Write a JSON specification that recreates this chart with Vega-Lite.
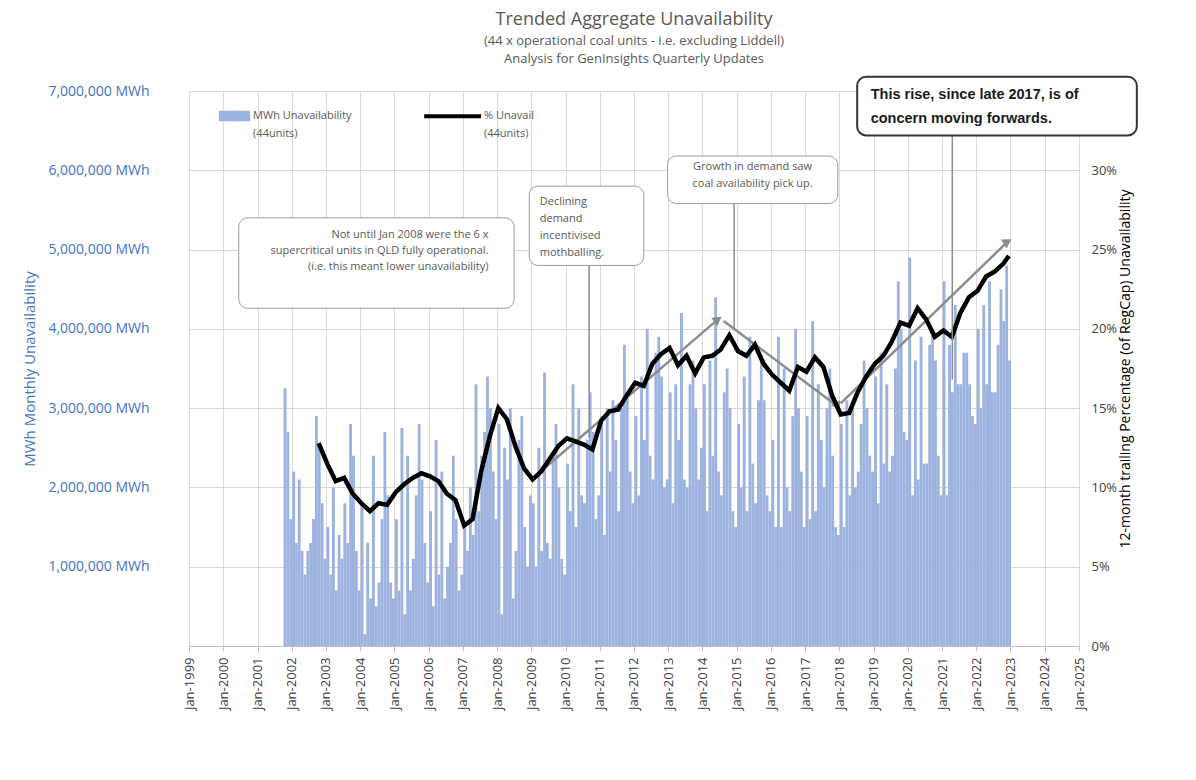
{
  "$schema": "https://vega.github.io/schema/vega-lite/v6.json",
  "width": 890,
  "height": 555,
  "padding": {"left": 22, "top": 10, "right": 10, "bottom": 5},
  "background": "white",
  "title": {
    "text": "Trended Aggregate Unavailability",
    "subtitle": ["(44 x operational coal units - i.e. excluding Liddell)", "Analysis for GenInsights Quarterly Updates"],
    "font": "Open Sans", "fontSize": 18, "fontWeight": "normal", "color": "#595959",
    "subtitleFont": "Open Sans", "subtitleFontSize": 13, "subtitleColor": "#595959", "subtitlePadding": 6, "subtitleLineHeight": 18,
    "anchor": "middle", "offset": 10
  },
  "config": {"view": {"stroke": null}, "font": "Open Sans"},
  "datasets": {
    "bars": [
      {"m":"2001-10-15","v":3.25},{"m":"2001-11-15","v":2.7},{"m":"2001-12-15","v":1.6},
      {"m":"2002-01-15","v":2.2},{"m":"2002-02-15","v":1.3},{"m":"2002-03-15","v":2.1},{"m":"2002-04-15","v":1.2},{"m":"2002-05-15","v":0.9},{"m":"2002-06-15","v":1.2},{"m":"2002-07-15","v":1.3},{"m":"2002-08-15","v":1.6},{"m":"2002-09-15","v":2.9},{"m":"2002-10-15","v":2.5},{"m":"2002-11-15","v":1.8},{"m":"2002-12-15","v":1.1},
      {"m":"2003-01-15","v":1.5},{"m":"2003-02-15","v":0.9},{"m":"2003-03-15","v":2.0},{"m":"2003-04-15","v":0.7},{"m":"2003-05-15","v":1.4},{"m":"2003-06-15","v":1.1},{"m":"2003-07-15","v":1.8},{"m":"2003-08-15","v":1.3},{"m":"2003-09-15","v":2.8},{"m":"2003-10-15","v":2.4},{"m":"2003-11-15","v":1.2},{"m":"2003-12-15","v":0.7},
      {"m":"2004-01-15","v":1.8},{"m":"2004-02-15","v":0.15},{"m":"2004-03-15","v":1.3},{"m":"2004-04-15","v":0.6},{"m":"2004-05-15","v":2.4},{"m":"2004-06-15","v":0.5},{"m":"2004-07-15","v":0.8},{"m":"2004-08-15","v":1.6},{"m":"2004-09-15","v":2.7},{"m":"2004-10-15","v":1.9},{"m":"2004-11-15","v":0.8},{"m":"2004-12-15","v":0.6},
      {"m":"2005-01-15","v":1.6},{"m":"2005-02-15","v":0.7},{"m":"2005-03-15","v":2.75},{"m":"2005-04-15","v":0.4},{"m":"2005-05-15","v":2.4},{"m":"2005-06-15","v":0.7},{"m":"2005-07-15","v":1.1},{"m":"2005-08-15","v":1.9},{"m":"2005-09-15","v":2.8},{"m":"2005-10-15","v":2.1},{"m":"2005-11-15","v":1.3},{"m":"2005-12-15","v":0.8},
      {"m":"2006-01-15","v":1.7},{"m":"2006-02-15","v":0.5},{"m":"2006-03-15","v":2.6},{"m":"2006-04-15","v":0.9},{"m":"2006-05-15","v":2.2},{"m":"2006-06-15","v":0.6},{"m":"2006-07-15","v":1.0},{"m":"2006-08-15","v":1.3},{"m":"2006-09-15","v":2.4},{"m":"2006-10-15","v":1.6},{"m":"2006-11-15","v":0.7},{"m":"2006-12-15","v":0.9},
      {"m":"2007-01-15","v":1.5},{"m":"2007-02-15","v":1.2},{"m":"2007-03-15","v":2.0},{"m":"2007-04-15","v":1.4},{"m":"2007-05-15","v":3.3},{"m":"2007-06-15","v":1.7},{"m":"2007-07-15","v":2.4},{"m":"2007-08-15","v":2.7},{"m":"2007-09-15","v":3.4},{"m":"2007-10-15","v":3.0},{"m":"2007-11-15","v":2.2},{"m":"2007-12-15","v":1.6},
      {"m":"2008-01-15","v":2.8},{"m":"2008-02-15","v":0.4},{"m":"2008-03-15","v":2.5},{"m":"2008-04-15","v":2.1},{"m":"2008-05-15","v":3.0},{"m":"2008-06-15","v":0.6},{"m":"2008-07-15","v":1.2},{"m":"2008-08-15","v":2.6},{"m":"2008-09-15","v":2.9},{"m":"2008-10-15","v":1.5},{"m":"2008-11-15","v":1.0},{"m":"2008-12-15","v":1.9},
      {"m":"2009-01-15","v":1.8},{"m":"2009-02-15","v":1.0},{"m":"2009-03-15","v":2.5},{"m":"2009-04-15","v":1.2},{"m":"2009-05-15","v":3.45},{"m":"2009-06-15","v":1.3},{"m":"2009-07-15","v":1.1},{"m":"2009-08-15","v":2.4},{"m":"2009-09-15","v":2.8},{"m":"2009-10-15","v":2.0},{"m":"2009-11-15","v":1.1},{"m":"2009-12-15","v":0.9},
      {"m":"2010-01-15","v":2.3},{"m":"2010-02-15","v":1.7},{"m":"2010-03-15","v":3.3},{"m":"2010-04-15","v":1.5},{"m":"2010-05-15","v":3.0},{"m":"2010-06-15","v":1.9},{"m":"2010-07-15","v":1.8},{"m":"2010-08-15","v":2.6},{"m":"2010-09-15","v":3.2},{"m":"2010-10-15","v":2.7},{"m":"2010-11-15","v":1.6},{"m":"2010-12-15","v":1.9},
      {"m":"2011-01-15","v":2.9},{"m":"2011-02-15","v":1.4},{"m":"2011-03-15","v":3.0},{"m":"2011-04-15","v":2.2},{"m":"2011-05-15","v":3.1},{"m":"2011-06-15","v":2.6},{"m":"2011-07-15","v":1.7},{"m":"2011-08-15","v":3.0},{"m":"2011-09-15","v":3.8},{"m":"2011-10-15","v":3.2},{"m":"2011-11-15","v":2.2},{"m":"2011-12-15","v":1.8},
      {"m":"2012-01-15","v":2.9},{"m":"2012-02-15","v":1.9},{"m":"2012-03-15","v":3.4},{"m":"2012-04-15","v":2.6},{"m":"2012-05-15","v":4.0},{"m":"2012-06-15","v":2.4},{"m":"2012-07-15","v":2.1},{"m":"2012-08-15","v":3.7},{"m":"2012-09-15","v":3.9},{"m":"2012-10-15","v":3.4},{"m":"2012-11-15","v":2.0},{"m":"2012-12-15","v":2.1},
      {"m":"2013-01-15","v":3.2},{"m":"2013-02-15","v":1.8},{"m":"2013-03-15","v":3.3},{"m":"2013-04-15","v":2.6},{"m":"2013-05-15","v":4.2},{"m":"2013-06-15","v":2.1},{"m":"2013-07-15","v":2.0},{"m":"2013-08-15","v":3.3},{"m":"2013-09-15","v":3.6},{"m":"2013-10-15","v":3.0},{"m":"2013-11-15","v":2.1},{"m":"2013-12-15","v":2.5},
      {"m":"2014-01-15","v":3.3},{"m":"2014-02-15","v":1.7},{"m":"2014-03-15","v":3.6},{"m":"2014-04-15","v":2.4},{"m":"2014-05-15","v":4.4},{"m":"2014-06-15","v":2.2},{"m":"2014-07-15","v":1.9},{"m":"2014-08-15","v":3.2},{"m":"2014-09-15","v":3.5},{"m":"2014-10-15","v":3.0},{"m":"2014-11-15","v":1.7},{"m":"2014-12-15","v":1.5},
      {"m":"2015-01-15","v":2.8},{"m":"2015-02-15","v":2.0},{"m":"2015-03-15","v":3.4},{"m":"2015-04-15","v":1.7},{"m":"2015-05-15","v":3.9},{"m":"2015-06-15","v":2.3},{"m":"2015-07-15","v":1.8},{"m":"2015-08-15","v":3.1},{"m":"2015-09-15","v":3.6},{"m":"2015-10-15","v":3.1},{"m":"2015-11-15","v":1.9},{"m":"2015-12-15","v":1.7},
      {"m":"2016-01-15","v":2.6},{"m":"2016-02-15","v":1.5},{"m":"2016-03-15","v":3.9},{"m":"2016-04-15","v":1.5},{"m":"2016-05-15","v":3.5},{"m":"2016-06-15","v":2.0},{"m":"2016-07-15","v":1.7},{"m":"2016-08-15","v":2.9},{"m":"2016-09-15","v":4.0},{"m":"2016-10-15","v":3.0},{"m":"2016-11-15","v":2.2},{"m":"2016-12-15","v":1.5},
      {"m":"2017-01-15","v":2.9},{"m":"2017-02-15","v":1.6},{"m":"2017-03-15","v":4.1},{"m":"2017-04-15","v":1.7},{"m":"2017-05-15","v":3.3},{"m":"2017-06-15","v":2.6},{"m":"2017-07-15","v":2.0},{"m":"2017-08-15","v":3.0},{"m":"2017-09-15","v":3.5},{"m":"2017-10-15","v":2.4},{"m":"2017-11-15","v":1.5},{"m":"2017-12-15","v":1.4},
      {"m":"2018-01-15","v":2.8},{"m":"2018-02-15","v":1.5},{"m":"2018-03-15","v":3.1},{"m":"2018-04-15","v":1.9},{"m":"2018-05-15","v":3.0},{"m":"2018-06-15","v":2.0},{"m":"2018-07-15","v":2.2},{"m":"2018-08-15","v":2.8},{"m":"2018-09-15","v":3.6},{"m":"2018-10-15","v":3.0},{"m":"2018-11-15","v":2.4},{"m":"2018-12-15","v":2.2},
      {"m":"2019-01-15","v":3.4},{"m":"2019-02-15","v":1.8},{"m":"2019-03-15","v":3.7},{"m":"2019-04-15","v":2.3},{"m":"2019-05-15","v":3.3},{"m":"2019-06-15","v":2.2},{"m":"2019-07-15","v":2.4},{"m":"2019-08-15","v":3.5},{"m":"2019-09-15","v":4.6},{"m":"2019-10-15","v":4.0},{"m":"2019-11-15","v":2.7},{"m":"2019-12-15","v":2.6},
      {"m":"2020-01-15","v":4.9},{"m":"2020-02-15","v":1.9},{"m":"2020-03-15","v":3.6},{"m":"2020-04-15","v":2.1},{"m":"2020-05-15","v":3.9},{"m":"2020-06-15","v":2.3},{"m":"2020-07-15","v":2.3},{"m":"2020-08-15","v":3.8},{"m":"2020-09-15","v":4.0},{"m":"2020-10-15","v":3.6},{"m":"2020-11-15","v":2.4},{"m":"2020-12-15","v":1.9},
      {"m":"2021-01-15","v":4.6},{"m":"2021-02-15","v":1.9},{"m":"2021-03-15","v":3.8},{"m":"2021-04-15","v":3.2},{"m":"2021-05-15","v":4.3},{"m":"2021-06-15","v":3.3},{"m":"2021-07-15","v":3.3},{"m":"2021-08-15","v":3.7},{"m":"2021-09-15","v":3.7},{"m":"2021-10-15","v":3.3},{"m":"2021-11-15","v":2.9},{"m":"2021-12-15","v":2.8},
      {"m":"2022-01-15","v":4.0},{"m":"2022-02-15","v":3.0},{"m":"2022-03-15","v":4.3},{"m":"2022-04-15","v":3.3},{"m":"2022-05-15","v":4.6},{"m":"2022-06-15","v":3.2},{"m":"2022-07-15","v":3.2},{"m":"2022-08-15","v":3.8},{"m":"2022-09-15","v":4.5},{"m":"2022-10-15","v":4.1},{"m":"2022-11-15","v":4.8},{"m":"2022-12-15","v":3.6}
    ],
    "line": [
      {"m":"2002-10-15","p":12.8},{"m":"2003-01-15","p":11.5},{"m":"2003-04-15","p":10.4},{"m":"2003-07-15","p":10.6},{"m":"2003-10-15","p":9.6},
      {"m":"2004-01-15","p":9.0},{"m":"2004-04-15","p":8.5},{"m":"2004-07-15","p":9.0},{"m":"2004-10-15","p":8.9},
      {"m":"2005-01-15","p":9.7},{"m":"2005-04-15","p":10.2},{"m":"2005-07-15","p":10.6},{"m":"2005-10-15","p":10.9},
      {"m":"2006-01-15","p":10.7},{"m":"2006-04-15","p":10.4},{"m":"2006-07-15","p":9.6},{"m":"2006-10-15","p":9.2},
      {"m":"2007-01-15","p":7.6},{"m":"2007-04-15","p":8.0},{"m":"2007-07-15","p":11.0},{"m":"2007-10-15","p":13.2},
      {"m":"2008-01-15","p":15.0},{"m":"2008-04-15","p":14.3},{"m":"2008-07-15","p":12.6},{"m":"2008-10-15","p":11.2},
      {"m":"2009-01-15","p":10.5},{"m":"2009-04-15","p":11.0},{"m":"2009-07-15","p":11.8},{"m":"2009-10-15","p":12.6},
      {"m":"2010-01-15","p":13.1},{"m":"2010-04-15","p":12.9},{"m":"2010-07-15","p":12.7},{"m":"2010-10-15","p":12.4},
      {"m":"2011-01-15","p":14.2},{"m":"2011-04-15","p":14.8},{"m":"2011-07-15","p":14.9},{"m":"2011-10-15","p":15.8},
      {"m":"2012-01-15","p":16.6},{"m":"2012-04-15","p":16.4},{"m":"2012-07-15","p":17.8},{"m":"2012-10-15","p":18.4},
      {"m":"2013-01-15","p":18.8},{"m":"2013-04-15","p":17.7},{"m":"2013-07-15","p":18.3},{"m":"2013-10-15","p":17.2},
      {"m":"2014-01-15","p":18.2},{"m":"2014-04-15","p":18.3},{"m":"2014-07-15","p":18.7},{"m":"2014-10-15","p":19.6},
      {"m":"2015-01-15","p":18.6},{"m":"2015-04-15","p":18.3},{"m":"2015-07-15","p":19.0},{"m":"2015-10-15","p":17.8},
      {"m":"2016-01-15","p":17.1},{"m":"2016-04-15","p":16.6},{"m":"2016-07-15","p":16.1},{"m":"2016-10-15","p":17.6},
      {"m":"2017-01-15","p":17.3},{"m":"2017-04-15","p":18.2},{"m":"2017-07-15","p":17.6},{"m":"2017-10-15","p":15.8},
      {"m":"2018-01-15","p":14.6},{"m":"2018-04-15","p":14.7},{"m":"2018-07-15","p":16.0},{"m":"2018-10-15","p":17.0},
      {"m":"2019-01-15","p":17.8},{"m":"2019-04-15","p":18.3},{"m":"2019-07-15","p":19.2},{"m":"2019-10-15","p":20.4},
      {"m":"2020-01-15","p":20.2},{"m":"2020-04-15","p":21.3},{"m":"2020-07-15","p":20.6},{"m":"2020-10-15","p":19.5},
      {"m":"2021-01-15","p":19.9},{"m":"2021-04-15","p":19.5},{"m":"2021-07-15","p":21.0},{"m":"2021-10-15","p":22.0},
      {"m":"2022-01-15","p":22.4},{"m":"2022-04-15","p":23.3},{"m":"2022-07-15","p":23.6},{"m":"2022-10-15","p":24.1},{"m":"2022-12-15","p":24.6}
    ],
    "trends": [
      {"a":"2009-01-01","b":"2014-06-15","p1":10.5,"p2":20.6},
      {"a":"2014-08-15","b":"2017-12-15","p1":20.5,"p2":15.1},
      {"a":"2018-01-15","b":"2022-12-01","p1":15.3,"p2":25.5}
    ],
    "heads": [
      {"m":"2014-06-15","p":20.6,"ang":55},
      {"m":"2017-12-15","p":15.1,"ang":150},
      {"m":"2022-12-01","p":25.5,"ang":58}
    ],
    "pointers": [
      {"m":"2010-09-10","p1":24.0,"p2":13.1},
      {"m":"2014-12-05","p1":27.9,"p2":20.0},
      {"m":"2021-04-20","p1":32.2,"p2":16.8}
    ],
    "boxes": [
      {"a":"2000-06-15","b":"2008-07-01","p1":27.0,"p2":21.3,"w":1},
      {"a":"2008-12-10","b":"2012-04-15","p1":29.0,"p2":24.0,"w":1},
      {"a":"2012-12-25","b":"2017-12-15","p1":30.9,"p2":27.9,"w":1},
      {"a":"2018-07-10","b":"2026-09-10","p1":35.9,"p2":32.2,"w":2}
    ],
    "legtext": [
      {"m":"2000-11-15","p":33.4,"t":"MWh Unavailability"},
      {"m":"2000-11-15","p":32.3,"t":"(44units)"},
      {"m":"2007-08-15","p":33.4,"t":"% Unavail"},
      {"m":"2007-08-15","p":32.3,"t":"(44units)"}
    ]
  },
  "layer": [
    {
      "data": {"name": "bars"},
      "mark": {"type": "bar", "color": "#9db3df", "binSpacing": 0},
      "encoding": {
        "x": {"field": "m", "type": "temporal", "timeUnit": "yearmonth",
          "scale": {"domain": ["1999-01-01", "2025-01-01"]},
          "axis": {"title": null, "format": "Jan-%Y", "tickCount": {"interval": "year", "step": 1},
            "labelAngle": -90, "labelFontSize": 13, "labelColor": "#404040", "grid": true, "gridColor": "#d9d9d9",
            "domainColor": "#bfbfbf", "tickColor": "#bfbfbf", "labelPadding": 6}},
        "y": {"field": "v", "type": "quantitative", "scale": {"domain": [0, 7]},
          "axis": {"title": ["MWh Monthly Unavailability"], "titleColor": "#4472c4", "titleFontSize": 15, "titleFontWeight": "normal",
            "values": [0,1,2,3,4,5,6,7], "labelExpr": "datum.value == 0 ? '' : format(datum.value * 1000000, ',') + ' MWh'",
            "labelColor": "#4472c4", "labelFontSize": 14, "gridColor": "#d9d9d9", "domain": false, "ticks": false, "labelPadding": 40, "titlePadding": 10}}
      }
    },
    {
      "data": {"name": "trends"},
      "mark": {"type": "rule", "color": "#8c8c8c", "strokeWidth": 2.5},
      "encoding": {
        "x": {"field": "a", "type": "temporal"}, "x2": {"field": "b"},
        "y": {"field": "p1", "type": "quantitative", "scale": {"domain": [0, 35]}, "axis": null}, "y2": {"field": "p2"}
      }
    },
    {
      "data": {"name": "heads"},
      "mark": {"type": "point", "shape": "triangle-up", "filled": true, "color": "#8c8c8c", "size": 110, "opacity": 1},
      "encoding": {
        "x": {"field": "m", "type": "temporal"},
        "y": {"field": "p", "type": "quantitative", "scale": {"domain": [0, 35]}, "axis": null},
        "angle": {"field": "ang", "type": "quantitative", "scale": null}
      }
    },
    {
      "data": {"name": "line"},
      "mark": {"type": "line", "color": "black", "strokeWidth": 4.5},
      "encoding": {
        "x": {"field": "m", "type": "temporal"},
        "y": {"field": "p", "type": "quantitative", "scale": {"domain": [0, 35]},
          "axis": {"orient": "right", "title": "12-month trailing Percentage (of RegCap) Unavailability",
            "titleFontSize": 14, "titleFontWeight": "normal", "titleColor": "black", "titleAngle": 270, "values": [0,5,10,15,20,25,30],
            "labelExpr": "datum.value + '%'", "labelFontSize": 13, "labelColor": "#404040", "grid": false,
            "domain": false, "ticks": false, "labelPadding": 12, "titlePadding": 16}}
      }
    },
    {
      "data": {"name": "pointers"},
      "mark": {"type": "rule", "color": "#8c8c8c", "strokeWidth": 1.5},
      "encoding": {
        "x": {"field": "m", "type": "temporal"},
        "y": {"field": "p1", "type": "quantitative", "scale": {"domain": [0, 35]}, "axis": null}, "y2": {"field": "p2"}
      }
    },
    {
      "data": {"name": "boxes"},
      "mark": {"type": "rect", "fill": "white", "cornerRadius": 9, "clip": false},
      "encoding": {
        "x": {"field": "a", "type": "temporal"}, "x2": {"field": "b"},
        "y": {"field": "p1", "type": "quantitative", "scale": {"domain": [0, 35]}, "axis": null}, "y2": {"field": "p2"},
        "stroke": {"condition": {"test": "datum.w == 2", "value": "#333333"}, "value": "#9a9a9a"},
        "strokeWidth": {"field": "w", "type": "quantitative", "scale": null}
      }
    },
    {
      "data": {"values": [{"m": "2007-10-01", "p": 25.9, "t": ["Not until Jan 2008 were the 6 x", "supercritical units in QLD fully operational.", " ", "(i.e. this meant lower unavailability)"]}]},
      "mark": {"type": "text", "fontSize": 11, "color": "#595959", "align": "right", "lineHeight": 16},
      "encoding": {
        "x": {"field": "m", "type": "temporal"},
        "y": {"field": "p", "type": "quantitative", "scale": {"domain": [0, 35]}, "axis": null},
        "text": {"field": "t"}
      }
    },
    {
      "data": {"values": [{"m": "2009-04-01", "p": 28.0, "t": ["Declining", "demand", "incentivised", "mothballing."]}]},
      "mark": {"type": "text", "fontSize": 11, "color": "#595959", "align": "left", "lineHeight": 17},
      "encoding": {
        "x": {"field": "m", "type": "temporal"},
        "y": {"field": "p", "type": "quantitative", "scale": {"domain": [0, 35]}, "axis": null},
        "text": {"field": "t"}
      }
    },
    {
      "data": {"values": [{"m": "2015-06-20", "p": 30.2, "t": ["Growth in demand saw", "coal availability pick up."]}]},
      "mark": {"type": "text", "fontSize": 11, "color": "#595959", "align": "center", "lineHeight": 17},
      "encoding": {
        "x": {"field": "m", "type": "temporal"},
        "y": {"field": "p", "type": "quantitative", "scale": {"domain": [0, 35]}, "axis": null},
        "text": {"field": "t"}
      }
    },
    {
      "data": {"values": [{"m": "2018-12-01", "p": 34.75, "t": ["This rise, since late 2017, is of", "concern moving forwards."]}]},
      "mark": {"type": "text", "font": "Liberation Sans", "fontSize": 14.5, "fontWeight": "bold", "color": "#1a1a1a", "align": "left", "lineHeight": 24, "clip": false},
      "encoding": {
        "x": {"field": "m", "type": "temporal"},
        "y": {"field": "p", "type": "quantitative", "scale": {"domain": [0, 35]}, "axis": null},
        "text": {"field": "t"}
      }
    },
    {
      "data": {"values": [{"a": "1999-11-15", "b": "2000-10-15", "p1": 33.75, "p2": 33.1}]},
      "mark": {"type": "rect", "color": "#9db3df"},
      "encoding": {
        "x": {"field": "a", "type": "temporal"}, "x2": {"field": "b"},
        "y": {"field": "p1", "type": "quantitative", "scale": {"domain": [0, 35]}, "axis": null}, "y2": {"field": "p2"}
      }
    },
    {
      "data": {"values": [{"a": "2005-11-15", "b": "2007-07-15", "p": 33.4}]},
      "mark": {"type": "rule", "color": "black", "strokeWidth": 4},
      "encoding": {
        "x": {"field": "a", "type": "temporal"}, "x2": {"field": "b"},
        "y": {"field": "p", "type": "quantitative", "scale": {"domain": [0, 35]}, "axis": null}
      }
    },
    {
      "data": {"name": "legtext"},
      "mark": {"type": "text", "fontSize": 11, "color": "#595959", "align": "left"},
      "encoding": {
        "x": {"field": "m", "type": "temporal"},
        "y": {"field": "p", "type": "quantitative", "scale": {"domain": [0, 35]}, "axis": null},
        "text": {"field": "t"}
      }
    }
  ],
  "resolve": {"scale": {"y": "independent"}}
}
